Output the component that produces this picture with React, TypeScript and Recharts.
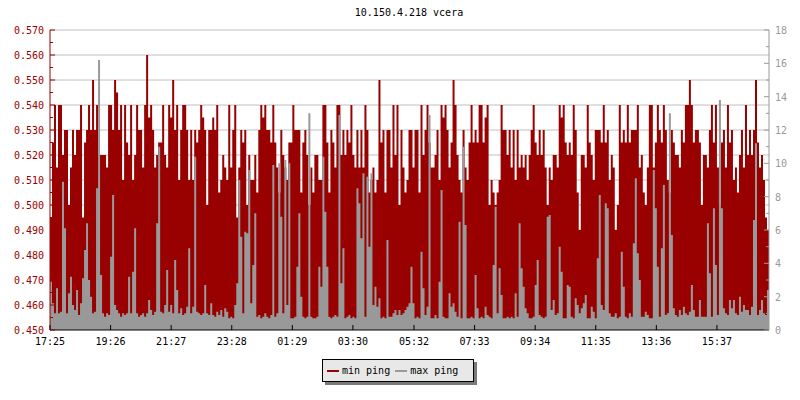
import React from 'react';
import { ComposedChart, Area, XAxis, YAxis, CartesianGrid } from 'recharts';

const RED = '#990000';
const GRAY = '#999999';
const FONT = '"DejaVu Sans Mono", monospace';

const chartTitle = '10.150.4.218 vcera';
const seriesNames = ['min ping', 'max ping'];

// minutes between samples
const sampleStep = 4;

const minPing = [
  0.495, 0.525, 0.54, 0.515, 0.54, 0.54, 0.52, 0.53, 0.53, 0.5,
  0.515, 0.53, 0.52, 0.53, 0.53, 0.54, 0.495, 0.525, 0.53, 0.54,
  0.53, 0.55, 0.53, 0.54, 0.52, 0.52, 0.52, 0.52, 0.515, 0.54,
  0.54, 0.53, 0.55, 0.545, 0.53, 0.54, 0.51, 0.54, 0.525, 0.52,
  0.54, 0.51, 0.52, 0.54, 0.53, 0.53, 0.515, 0.54, 0.56, 0.535,
  0.54, 0.53, 0.515, 0.52, 0.525, 0.525, 0.54, 0.52, 0.515, 0.54,

  0.535, 0.55, 0.53, 0.54, 0.51, 0.53, 0.54, 0.54, 0.53, 0.51,
  0.53, 0.51, 0.53, 0.525, 0.53, 0.54, 0.535, 0.53, 0.5, 0.53,
  0.53, 0.535, 0.53, 0.54, 0.505, 0.51, 0.52, 0.515, 0.51, 0.54,
  0.515, 0.53, 0.54, 0.495, 0.515, 0.53, 0.525, 0.53, 0.5, 0.52,
  0.51, 0.51, 0.52, 0.505, 0.53, 0.54, 0.535, 0.54, 0.53, 0.53,
  0.525, 0.54, 0.525, 0.515, 0.505, 0.53, 0.52, 0.515, 0.51, 0.525,

  0.525, 0.54, 0.53, 0.53, 0.53, 0.505, 0.525, 0.53, 0.52, 0.5,
  0.515, 0.505, 0.52, 0.52, 0.51, 0.51, 0.54, 0.54, 0.525, 0.505,
  0.53, 0.525, 0.515, 0.54, 0.54, 0.52, 0.53, 0.52, 0.53, 0.525,
  0.54, 0.52, 0.515, 0.53, 0.515, 0.53, 0.515, 0.54, 0.53, 0.505,
  0.51, 0.515, 0.505, 0.51, 0.55, 0.525, 0.53, 0.505, 0.53, 0.53,
  0.515, 0.54, 0.52, 0.54, 0.5, 0.53, 0.515, 0.505, 0.51, 0.53,

  0.53, 0.515, 0.53, 0.53, 0.505, 0.54, 0.52, 0.53, 0.54, 0.525,
  0.515, 0.515, 0.52, 0.53, 0.51, 0.54, 0.535, 0.54, 0.53, 0.515,
  0.525, 0.55, 0.54, 0.52, 0.51, 0.505, 0.53, 0.515, 0.51, 0.525,
  0.54, 0.525, 0.53, 0.525, 0.54, 0.54, 0.525, 0.535, 0.54, 0.5,
  0.51, 0.505, 0.5, 0.505, 0.51, 0.54, 0.53, 0.53, 0.52, 0.53,
  0.515, 0.53, 0.51, 0.53, 0.515, 0.52, 0.515, 0.52, 0.51, 0.52,

  0.53, 0.54, 0.525, 0.52, 0.53, 0.52, 0.53, 0.515, 0.5, 0.515,
  0.51, 0.52, 0.52, 0.515, 0.54, 0.535, 0.54, 0.525, 0.52, 0.525,
  0.52, 0.54, 0.53, 0.505, 0.49, 0.52, 0.52, 0.515, 0.54, 0.525,
  0.52, 0.51, 0.53, 0.53, 0.53, 0.525, 0.54, 0.525, 0.53, 0.51,
  0.52, 0.515, 0.49, 0.5, 0.54, 0.525, 0.53, 0.525, 0.54, 0.525,
  0.53, 0.53, 0.53, 0.54, 0.515, 0.52, 0.505, 0.5, 0.515, 0.54,

  0.54, 0.515, 0.525, 0.54, 0.53, 0.525, 0.54, 0.53, 0.51, 0.505,
  0.53, 0.525, 0.52, 0.52, 0.515, 0.53, 0.525, 0.54, 0.54, 0.55,
  0.54, 0.525, 0.53, 0.53, 0.525, 0.5, 0.52, 0.52, 0.515, 0.53,
  0.54, 0.525, 0.54, 0.515, 0.5, 0.525, 0.53, 0.515, 0.54, 0.525,
  0.53, 0.51, 0.515, 0.505, 0.52, 0.53, 0.515, 0.54, 0.52, 0.53,
  0.52, 0.53, 0.55, 0.525, 0.515, 0.52, 0.51, 0.495, 0.49, 0.515,
];

const maxPing = [
  2.9, 1.6, 1.0, 2.5, 1.0, 1.1, 8.9, 6.1, 1.0, 2.2,
  3.2, 1.5, 1.2, 2.4, 0.9, 1.6, 3.1, 4.8, 6.4, 3.0,
  2.0, 1.0, 1.1, 8.5, 16.2, 3.3, 1.0, 0.8, 1.0, 0.9,
  4.4, 8.1, 1.5, 1.2, 1.0, 0.8, 1.0, 0.9, 1.0, 3.2,
  1.0, 3.5, 6.1, 1.0, 0.8, 0.9, 1.0, 0.8, 1.0, 1.8,
  1.2, 0.9, 1.1, 6.4, 11.0, 1.1, 1.0, 1.5, 3.6, 1.1,

  1.5, 1.0, 4.2, 2.4, 1.0, 1.3, 0.9, 1.0, 1.4, 4.9,
  1.0, 1.4, 10.4, 1.1, 1.0, 0.9, 1.0, 2.7, 1.0, 0.9,
  1.6, 0.9, 0.8, 1.1, 0.9, 1.2, 0.8, 1.3, 1.1, 0.7,
  0.8, 0.7, 1.5, 2.8, 9.0, 5.6, 1.0, 5.9, 5.8, 9.6,
  1.6, 3.9, 7.0, 0.8, 0.9, 0.7, 0.8, 1.0, 0.8, 0.7,
  0.9, 9.9, 0.8, 1.0, 10.0, 6.8, 1.0, 10.2, 1.5, 10.0,

  0.7, 0.7, 0.8, 3.8, 7.0, 2.0, 0.8, 0.7, 0.8, 13.0,
  0.8, 0.7, 0.7, 0.8, 3.8, 2.6, 10.4, 7.1, 3.8, 0.8,
  0.7, 0.8, 0.9, 0.8, 12.9, 2.8, 4.9, 0.7, 0.8, 0.9,
  0.7, 0.8, 0.7, 8.5, 7.6, 5.5, 9.4, 0.8, 9.2, 5.0,
  9.4, 1.5, 2.6, 1.4, 1.9, 0.7, 0.8, 0.7, 5.4, 0.8,
  0.8, 1.0, 1.2, 0.9, 1.2, 0.9, 1.0, 1.2, 1.4, 1.6,

  3.8, 1.6, 0.7, 0.8, 0.7, 4.7, 2.5, 0.9, 1.4, 12.9,
  0.7, 0.7, 0.9, 0.7, 2.9, 8.4, 0.8, 0.7, 0.7, 2.2,
  1.4, 1.6, 1.1, 0.8, 6.5, 0.7, 11.0, 6.3, 0.7, 0.7,
  0.8, 0.7, 3.3, 1.3, 0.7, 0.8, 0.7, 1.4, 0.9, 0.8,
  0.7, 3.9, 7.4, 1.0, 3.7, 2.1, 0.7, 0.7, 0.8, 0.7,
  0.8, 0.7, 2.2, 0.8, 6.4, 3.7, 2.6, 1.3, 1.0, 0.7,

  0.7, 0.8, 2.7, 4.2, 0.9, 0.8, 0.7, 0.8, 6.8, 6.9,
  1.2, 1.8, 0.9, 1.0, 5.0, 3.5, 0.7, 0.7, 2.7, 2.6,
  0.8, 0.7, 1.9, 1.5, 1.0, 1.3, 1.6, 2.1, 0.7, 0.7,
  1.4, 1.1, 0.7, 4.3, 8.1, 1.5, 1.2, 7.6, 7.3, 1.0,
  0.8, 0.8, 1.0, 0.7, 0.8, 4.7, 2.6, 0.8, 0.7, 1.0,
  0.8, 5.2, 9.1, 4.6, 3.0, 0.8, 0.8, 1.1, 0.9, 0.7,

  0.7, 9.6, 7.3, 3.8, 0.8, 4.9, 8.7, 0.9, 1.0, 13.0,
  5.7, 1.3, 0.9, 0.8, 1.2, 0.9, 1.4, 1.0, 0.9, 1.1,
  2.7, 1.2, 0.8, 0.8, 1.8, 0.8, 0.8, 0.8, 6.4, 3.4,
  0.8, 7.3, 3.9, 0.9, 13.8, 7.3, 1.3, 1.0, 0.9, 1.8,
  1.3, 1.8, 1.0, 0.9, 2.0, 1.1, 1.5, 1.2, 1.2, 0.9,
  1.4, 6.6, 11.2, 0.9, 1.2, 1.8, 1.0, 0.9, 2.4, 1.5,
];

// time axis: minutes since 17:25
const timeTicks = [0, 121, 242, 363, 484, 605, 727, 848, 969, 1090, 1211, 1332];
const timeLabels = ['17:25', '19:26', '21:27', '23:28', '01:29', '03:30', '05:32', '07:33', '09:34', '11:35', '13:36', '15:37'];

const leftTicks = [0.45, 0.455, 0.46, 0.465, 0.47, 0.475, 0.48, 0.485, 0.49, 0.495, 0.5, 0.505, 0.51, 0.515, 0.52, 0.525, 0.53, 0.535, 0.54, 0.545, 0.55, 0.555, 0.56, 0.565, 0.57];
const leftGrid = [0.46, 0.47, 0.48, 0.49, 0.5, 0.51, 0.52, 0.53, 0.54, 0.55, 0.56, 0.57];
const rightTicks = [0, 1, 2, 3, 4, 5, 6, 7, 8, 9, 10, 11, 12, 13, 14, 15, 16, 17, 18];

const data = minPing.map((v, i) => ({ t: i * sampleStep, min: v, max: maxPing[i] }));

const LeftTick = (props: any) => {
  const { x, y, payload } = props;
  const v = payload.value as number;
  const major = Math.round(v * 1000) % 10 === 0;
  const ax = x + 6;
  return (
    <g>
      <line x1={ax} x2={ax + (major ? 5 : 3)} y1={y} y2={y} stroke={RED} />
      {major && (
        <text x={x} y={y} dy={4} textAnchor="end" fill={RED} fontFamily={FONT} fontSize={10}>
          {v.toFixed(3)}
        </text>
      )}
    </g>
  );
};

const RightTick = (props: any) => {
  const { x, y, payload } = props;
  const v = payload.value as number;
  const major = v % 2 === 0;
  const ax = x - 6;
  return (
    <g>
      <line x1={ax} x2={ax - (major ? 5 : 3)} y1={y} y2={y} stroke={GRAY} />
      {major && (
        <text x={x} y={y} dy={4} textAnchor="start" fill={GRAY} fontFamily={FONT} fontSize={10}>
          {v}
        </text>
      )}
    </g>
  );
};

const BottomTick = (props: any) => {
  const { x, y, payload } = props;
  const idx = timeTicks.indexOf(payload.value);
  return (
    <g>
      <line x1={x} x2={x} y1={y} y2={y - 5} stroke="#000" />
      <text x={x} y={y} dy={15} textAnchor="middle" fill="#000" fontFamily={FONT} fontSize={10}>
        {timeLabels[idx]}
      </text>
    </g>
  );
};

export default function App() {
  return (
    <div style={{ position: 'absolute', left: 0, top: 0, width: 800, height: 400, background: '#fff' }}>
      <div
        style={{
          position: 'absolute',
          left: 0,
          top: 6,
          width: 818,
          textAlign: 'center',
          fontFamily: FONT,
          fontSize: 10,
          color: '#000',
          lineHeight: '14px',
        }}
      >
        {chartTitle}
      </div>
      <ComposedChart width={800} height={400} data={data} margin={{ top: 30, right: 0, bottom: 50, left: 0 }}>
        <CartesianGrid yAxisId="left" horizontal vertical={false} horizontalValues={leftGrid} stroke="#c0c0c0" strokeWidth={1} />
        <XAxis
          dataKey="t"
          type="number"
          domain={[0, 1436]}
          ticks={timeTicks}
          height={20}
          tickSize={0}
          tickMargin={0}
          tickLine={false}
          axisLine={{ stroke: '#000' }}
          tick={<BottomTick />}
          interval={0}
        />
        <YAxis
          yAxisId="left"
          orientation="left"
          width={50}
          domain={[0.45, 0.57]}
          ticks={leftTicks}
          allowDataOverflow
          tickSize={0}
          tickMargin={6}
          tickLine={false}
          axisLine={{ stroke: RED }}
          tick={<LeftTick />}
          interval={0}
        />
        <YAxis
          yAxisId="right"
          orientation="right"
          width={31}
          domain={[0, 18]}
          ticks={rightTicks}
          allowDataOverflow
          tickSize={0}
          tickMargin={6}
          tickLine={false}
          axisLine={{ stroke: GRAY }}
          tick={<RightTick />}
          interval={0}
        />
        <Area
          yAxisId="left"
          dataKey="min"
          name={seriesNames[0]}
          type="stepAfter"
          fill={RED}
          fillOpacity={1}
          stroke="none"
          isAnimationActive={false}
          dot={false}
          activeDot={false}
        />
        <Area
          yAxisId="right"
          dataKey="max"
          name={seriesNames[1]}
          type="stepAfter"
          fill={GRAY}
          fillOpacity={1}
          stroke="none"
          isAnimationActive={false}
          dot={false}
          activeDot={false}
        />
      </ComposedChart>
      <div
        style={{
          position: 'absolute',
          left: 322,
          top: 359,
          width: 152,
          height: 23,
          background: '#e8e8e8',
          border: '1px solid #000',
          boxShadow: '3px 3px 0 #7a7a7a',
          fontFamily: FONT,
          fontSize: 10,
          display: 'flex',
          alignItems: 'center',
          paddingLeft: 4,
          boxSizing: 'border-box',
          whiteSpace: 'nowrap',
        }}
      >
        <span style={{ display: 'inline-block', width: 12, height: 2, background: RED, marginRight: 3 }} />
        <span style={{ marginRight: 5 }}>{seriesNames[0]}</span>
        <span style={{ display: 'inline-block', width: 12, height: 2, background: GRAY, marginRight: 3 }} />
        <span>{seriesNames[1]}</span>
      </div>
    </div>
  );
}
